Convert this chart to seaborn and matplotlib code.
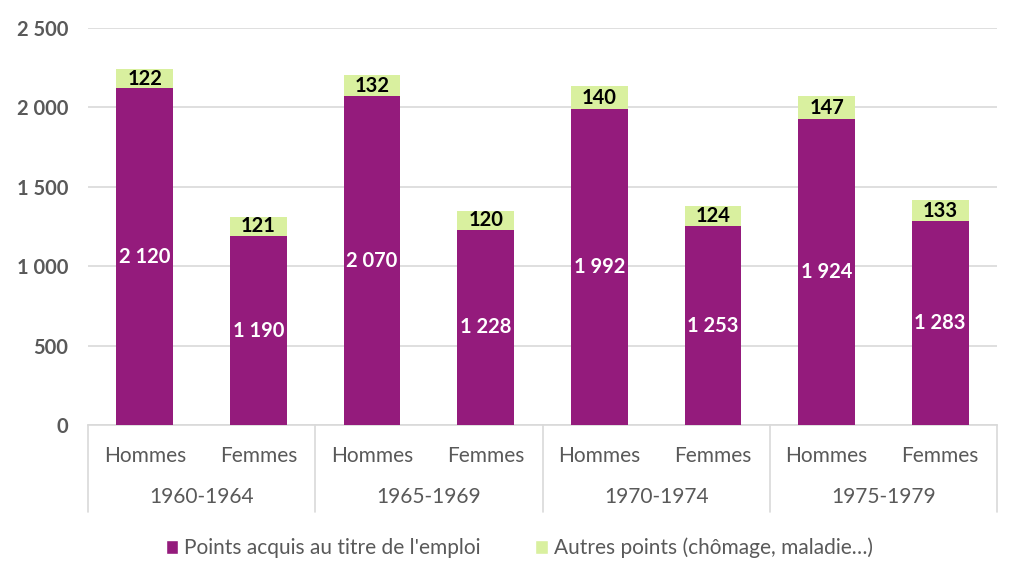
import matplotlib
matplotlib.use("Agg")
import matplotlib.pyplot as plt
import matplotlib.transforms as mtransforms
from matplotlib.patches import Patch
import seaborn as sns
import pandas as pd

periods = ["1960-1964", "1965-1969", "1970-1974", "1975-1979"]
sexes = ["Hommes", "Femmes"]
emploi = [2120, 1190, 2070, 1228, 1992, 1253, 1924, 1283]
autres = [122, 121, 132, 120, 140, 124, 147, 133]
series_names = ["Points acquis au titre de l'emploi", "Autres points (chômage, maladie…)"]

PURPLE = "#941B7C"
GREEN = "#D9F09F"
GRAY = "#595959"

sns.set_theme(style="white")
plt.rcParams["font.family"] = ["Lato", "DejaVu Sans"]

keys = [f"{p}|{s}" for p in periods for s in sexes]
df = pd.DataFrame({
    "key": keys,
    "emploi": emploi,
    "autres": autres,
})
df["total"] = df["emploi"] + df["autres"]

fig = plt.figure(figsize=(10.24, 5.84), dpi=100)
ax = fig.add_axes([88/1024, 1 - 425/584, (997 - 88)/1024, (425 - 28)/584])

sns.barplot(data=df, x="key", y="total", order=keys, color=GREEN, width=0.5,
            saturation=1, ax=ax, zorder=3, edgecolor="none")
sns.barplot(data=df, x="key", y="emploi", order=keys, color=PURPLE, width=0.5,
            saturation=1, ax=ax, zorder=3, edgecolor="none")

ax.set_ylim(0, 2500)
ax.set_xlim(-0.5, len(keys) - 0.5)
ax.set_yticks([0, 500, 1000, 1500, 2000, 2500])
ax.set_yticklabels([f"{v:,}".replace(",", " ") for v in [0, 500, 1000, 1500, 2000, 2500]],
                   fontsize=14.5, fontweight="bold", color=GRAY)
ax.yaxis.grid(True, color="#D9D9D9", linewidth=1.2, zorder=0)
ax.set_axisbelow(True)
ax.tick_params(axis="y", length=0, pad=14)
ax.set_xticks(range(len(keys)))
ax.set_xticklabels([k.split("|")[1] for k in keys], fontsize=15, color=GRAY)
ax.tick_params(axis="x", length=0, pad=15)
ax.set_xlabel("")
ax.set_ylabel("")
for s in ["top", "right", "left"]:
    ax.spines[s].set_visible(False)
ax.spines["bottom"].set_color("#D9D9D9")
ax.spines["bottom"].set_linewidth(1.2)

fmt = lambda v: f"{v:,}".replace(",", " ")
for i, (e, a) in enumerate(zip(emploi, autres)):
    ax.text(i, e / 2, fmt(e), ha="center", va="center", color="white",
            fontsize=14.5, fontweight="bold", zorder=5)
    ax.text(i, e + a / 2, fmt(a), ha="center", va="center", color="black",
            fontsize=14.5, fontweight="bold", zorder=5)

trans = mtransforms.blended_transform_factory(ax.transData, ax.transAxes)
bottom = -(512 - 425) / 397
for xs in [-0.5, 1.5, 3.5, 5.5, 7.5]:
    ax.plot([xs, xs], [0, bottom], transform=trans, color="#D9D9D9",
            linewidth=1.2, clip_on=False)
for j, p in enumerate(periods):
    ax.text(2 * j + 0.5, -(497 - 425) / 397, p, transform=trans, ha="center",
            va="center", fontsize=15, color=GRAY)

handles = [Patch(facecolor=PURPLE, label=series_names[0]),
           Patch(facecolor=GREEN, label=series_names[1])]
fig.legend(handles=handles, loc="center", bbox_to_anchor=(0.507, 1 - 548/584), ncol=2,
           frameon=False, fontsize=15, labelcolor=GRAY, handlelength=0.6,
           handleheight=0.6, handletextpad=0.3, columnspacing=2.6)

fig.savefig("out.png", dpi=100)
